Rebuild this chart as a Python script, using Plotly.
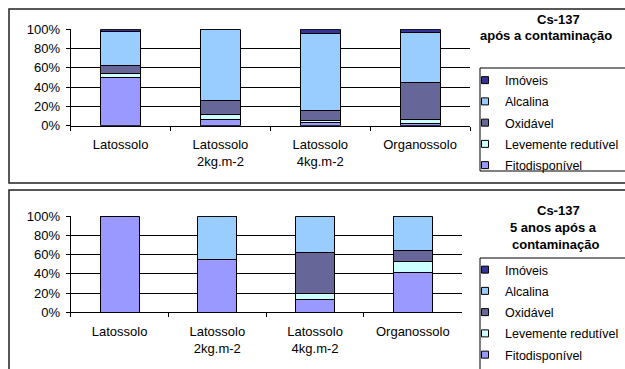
import plotly.graph_objects as go

categories = ["Latossolo", "Latossolo<br>2kg.m-2", "Latossolo<br>4kg.m-2", "Organossolo"]
series_names = ["Fitodisponível", "Levemente redutível", "Oxidável", "Alcalina", "Imóveis"]
colors = ["#9999FF", "#CCFFFF", "#666699", "#99CCFF", "#333399"]

# top chart: Cs-137 após a contaminação (%)
top_fito = [50, 6.5, 3, 2.5]
top_lev = [4.5, 5, 2, 4]
top_oxi = [8, 14.5, 11, 38]
top_alc = [35.5, 74, 80, 52]
top_imo = [2, 0, 4, 3.5]

# bottom chart: Cs-137 5 anos após a contaminação (%)
bot_fito = [100, 55, 13.5, 41.5]
bot_lev = [0, 0, 6.5, 11]
bot_oxi = [0, 0, 42.5, 11.5]
bot_alc = [0, 45, 37.5, 36]
bot_imo = [0, 0, 0, 0]

y_ticks = [0, 20, 40, 60, 80, 100]
y_tick_labels = ["0%", "20%", "40%", "60%", "80%", "100%"]

FONT = "Liberation Sans, Arial, sans-serif"
W, H = 625, 369

def px(x):
    return x / W

def py(y):
    return 1 - y / H

fig = go.Figure()

top_series = [top_fito, top_lev, top_oxi, top_alc, top_imo]
bot_series = [bot_fito, bot_lev, bot_oxi, bot_alc, bot_imo]

for vals, name, col in zip(top_series, series_names, colors):
    fig.add_trace(go.Bar(x=categories, y=vals, name=name, marker=dict(color=col, line=dict(color="black", width=1)),
                         xaxis="x", yaxis="y", showlegend=False))
for vals, name, col in zip(bot_series, series_names, colors):
    fig.add_trace(go.Bar(x=categories, y=vals, name=name, marker=dict(color=col, line=dict(color="black", width=1)),
                         xaxis="x2", yaxis="y2", showlegend=False))

# legend entries (Imóveis at top)
for i in reversed(range(5)):
    fig.add_trace(go.Scatter(x=[None], y=[None], mode="markers", name=series_names[i],
                             marker=dict(symbol="square", size=7, color=colors[i], line=dict(color="black", width=1)),
                             xaxis="x", yaxis="y", legend="legend", legendgroup="t" + str(i)))
for i in reversed(range(5)):
    fig.add_trace(go.Scatter(x=[None], y=[None], mode="markers", name=series_names[i],
                             marker=dict(symbol="square", size=7, color=colors[i], line=dict(color="black", width=1)),
                             xaxis="x2", yaxis="y2", legend="legend2", legendgroup="b" + str(i)))

xcommon = dict(type="category", showline=True, linecolor="black", linewidth=1, ticks="outside", ticklen=4,
               tickcolor="black", tickson="boundaries", showgrid=False, tickfont=dict(family=FONT, size=13, color="black"),
               range=[-0.5, 3.5], fixedrange=True, automargin=False, ticklabelstandoff=7)
ycommon = dict(range=[0, 100], tickmode="array", tickvals=y_ticks, ticktext=y_tick_labels, showline=True,
               linecolor="black", linewidth=1,
               ticks="outside", ticklen=4, tickcolor="black", showgrid=True, gridcolor="black", gridwidth=1,
               zeroline=False, tickfont=dict(family=FONT, size=13, color="black"), fixedrange=True, automargin=False,
               ticklabelstandoff=3)

legcommon = dict(font=dict(family=FONT, size=12.5, color="black"), bgcolor="rgba(0,0,0,0)", borderwidth=0,
                 xanchor="left", yanchor="top", tracegroupgap=2, itemclick=False)

fig.update_layout(
    width=W, height=H, margin=dict(l=0, r=0, t=0, b=0, autoexpand=False),
    paper_bgcolor="white", plot_bgcolor="white",
    barmode="stack", bargap=0.6,
    font=dict(family=FONT, size=13, color="black"),
    xaxis=dict(domain=[px(70.7), px(470)], anchor="y", **xcommon),
    yaxis=dict(domain=[py(125.7), py(29.3)], anchor="x", **ycommon),
    xaxis2=dict(domain=[px(70.7), px(461.7)], anchor="y2", **xcommon),
    yaxis2=dict(domain=[py(312.3), py(216.3)], anchor="x2", **ycommon),
    legend=dict(x=px(465), y=py(65.5), **legcommon),
    legend2=dict(x=px(465), y=py(255), **legcommon),
    showlegend=True,
)

# outer chart frames and legend frames
frame = dict(type="rect", xref="paper", yref="paper", line=dict(color="#222222", width=1.5), fillcolor="rgba(0,0,0,0)")
fig.add_shape(x0=px(9), x1=px(640), y0=py(183), y1=py(9), **frame)
fig.add_shape(x0=px(9), x1=px(640), y0=py(380), y1=py(190), **frame)
lframe = dict(type="rect", xref="paper", yref="paper", line=dict(color="black", width=1), fillcolor="rgba(0,0,0,0)")
fig.add_shape(x0=px(480), x1=px(640), y0=py(171), y1=py(68), **lframe)
fig.add_shape(x0=px(480), x1=px(640), y0=py(380), y1=py(258), **lframe)

def title(text, x, y):
    fig.add_annotation(text="<b>" + text + "</b>", x=px(x), y=py(y), xref="paper", yref="paper",
                       showarrow=False, xanchor="center", yanchor="middle",
                       font=dict(family=FONT, size=13, color="black"))

title("Cs-137", 558, 20)
title("após a contaminação", 545.5, 36)
title("Cs-137", 558, 210)
title("5 anos após a", 553, 227.5)
title("contaminação", 555, 245)

fig.write_html("out.html")
